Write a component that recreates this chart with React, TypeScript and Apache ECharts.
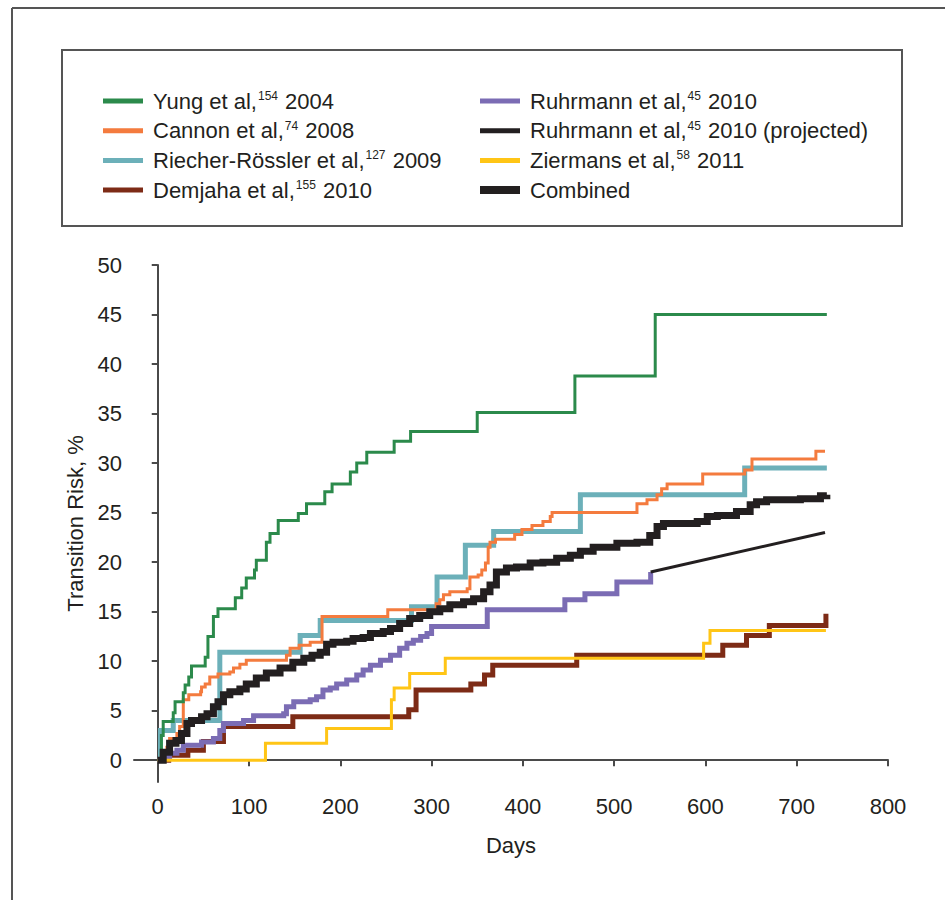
import React, { useEffect, useRef } from "react";
import * as echarts from "echarts";

const FONT = "'Liberation Sans', Arial, sans-serif";
const FS = 22;
const TEXT = "#231f20";

const xTicks = [0, 100, 200, 300, 400, 500, 600, 700, 800];
const yTicks = [0, 5, 10, 15, 20, 25, 30, 35, 40, 45, 50];

// [day, transition risk %]
const yung: [number, number][] = [
  [0, 0], [4, 2.5], [6, 3.9], [17, 4.8], [19, 5.9], [28, 6.8], [30, 7.6], [34, 8.4], [37, 9.5],
  [52, 10.4], [55, 12.5], [61, 14.5], [66, 15.3], [85, 16.4], [92, 17.4], [97, 18.4], [106, 19.2],
  [108, 20.2], [119, 22.0], [123, 22.9], [132, 24.2], [154, 24.9], [163, 25.9], [183, 27.1],
  [191, 27.9], [211, 29.1], [218, 30.0], [229, 31.1], [259, 32.2], [277, 33.2], [350, 35.1],
  [457, 38.8], [545, 45.0], [733, 45.0],
];
const cannon: [number, number][] = [
  [0, 0], [4, 0.7], [10, 1.3], [13, 2.2], [21, 2.7], [24, 3.4], [28, 6.1], [34, 6.6], [47, 6.9],
  [48, 7.4], [52, 7.7], [57, 8.4], [66, 8.7], [79, 8.9], [83, 9.3], [90, 9.7], [97, 10.1],
  [141, 10.6], [145, 11.3], [155, 11.6], [167, 11.9], [180, 14.5], [252, 15.2], [305, 15.8],
  [309, 16.2], [313, 16.7], [320, 17.0], [339, 17.3], [342, 18.5], [351, 18.7], [355, 19.2],
  [359, 19.9], [362, 21.5], [364, 22.0], [370, 22.3], [391, 22.8], [399, 23.3], [410, 23.7],
  [422, 24.1], [430, 24.6], [432, 25.0], [525, 25.9], [536, 26.3], [547, 26.8], [552, 27.4],
  [558, 27.9], [597, 28.9], [643, 29.3], [651, 30.4], [721, 31.2], [731, 31.2],
];
const riecher: [number, number][] = [
  [0, 0], [3, 3.0], [17, 4.0], [68, 10.9], [156, 12.6], [178, 14.1], [278, 15.5], [306, 18.5],
  [337, 21.7], [368, 23.1], [463, 26.8], [643, 29.5], [733, 29.5],
];
const demjaha: [number, number][] = [
  [0, 0], [12, 0.5], [33, 1.0], [50, 1.9], [72, 3.4], [148, 4.4], [275, 5.1], [283, 7.1],
  [343, 7.7], [358, 8.6], [367, 9.6], [459, 10.6], [619, 11.6], [645, 12.6], [670, 13.6],
  [732, 14.8],
];
const ruhrmann: [number, number][] = [
  [0, 0], [6, 0.3], [13, 0.7], [21, 1.0], [28, 1.5], [48, 1.85], [61, 2.2], [68, 3.0], [72, 3.7],
  [94, 4.0], [105, 4.5], [138, 4.7], [141, 5.4], [149, 5.9], [167, 6.1], [174, 6.4], [181, 7.1],
  [189, 7.3], [196, 7.7], [207, 8.1], [218, 8.6], [225, 9.1], [233, 9.6], [244, 10.1],
  [255, 10.6], [265, 11.3], [273, 11.8], [280, 12.1], [288, 12.5], [295, 12.8], [300, 13.5],
  [361, 15.2], [446, 16.2], [468, 16.8], [503, 18.0], [540, 19.0],
];
const ruhrmannProjected: [number, number][] = [[540, 19.0], [731, 23.0]];
const ziermans: [number, number][] = [
  [0, 0], [118, 1.7], [185, 3.2], [256, 6.1], [259, 7.3], [276, 8.75], [315, 10.3], [598, 11.8],
  [605, 13.1], [732, 13.1],
];
const combined: [number, number][] = [
  [0, 0], [6, 0.8], [13, 1.7], [20, 2.0], [26, 2.7], [32, 3.7], [37, 4.0], [48, 4.4], [54, 4.7],
  [61, 5.4], [66, 5.9], [72, 6.6], [79, 6.9], [90, 7.2], [97, 7.7], [108, 8.3], [119, 8.8],
  [134, 9.3], [148, 9.9], [160, 10.3], [169, 10.6], [178, 10.9], [185, 11.7], [192, 11.9],
  [207, 12.0], [214, 12.3], [225, 12.4], [233, 12.8], [247, 13.0], [255, 13.3], [265, 13.8],
  [276, 14.3], [287, 14.6], [298, 15.0], [309, 15.3], [320, 15.7], [335, 16.0], [346, 16.3],
  [357, 17.0], [364, 17.7], [371, 19.0], [382, 19.4], [393, 19.5], [408, 19.9], [422, 20.0],
  [437, 20.4], [452, 20.7], [463, 21.1], [477, 21.5], [503, 21.9], [525, 22.0], [539, 22.7],
  [547, 23.6], [554, 23.9], [591, 24.1], [602, 24.6], [613, 24.7], [634, 25.1], [649, 25.8],
  [656, 26.1], [667, 26.3], [704, 26.4], [726, 26.7], [733, 26.8],
];

// legend labels: [text, superscript, text]
const labels: Record<string, [string, string, string]> = {
  Yung: ["Yung et al,", "154", " 2004"],
  Cannon: ["Cannon et al,", "74", " 2008"],
  Riecher: ["Riecher-Rössler et al,", "127", " 2009"],
  Demjaha: ["Demjaha et al,", "155", " 2010"],
  Ruhrmann: ["Ruhrmann et al,", "45", " 2010"],
  RuhrmannProj: ["Ruhrmann et al,", "45", " 2010 (projected)"],
  Ziermans: ["Ziermans et al,", "58", " 2011"],
  Combined: ["Combined", "", ""],
};

const colors: Record<string, string> = {
  Yung: "#2b8a4b",
  Cannon: "#f47b3e",
  Riecher: "#6cb0b9",
  Demjaha: "#7d2b16",
  Ruhrmann: "#7b6cb4",
  RuhrmannProj: "#231f20",
  Ziermans: "#ffc516",
  Combined: "#231f20",
};

const thinIcon = "path://M0,0h0.01v0.01h-0.01z M0,1.5h40v5h-40z M0,7.99h0.01v0.01h-0.01z";
const thickIcon = "path://M0,0h40v8h-40z";

export default function App() {
  const ref = useRef<HTMLDivElement>(null);
  useEffect(() => {
    if (!ref.current) return;
    const chart = echarts.init(ref.current, null, { renderer: "svg" });
    const step = (name: string, data: [number, number][], width: number) => ({
      name,
      type: "line",
      step: "end",
      data,
      showSymbol: false,
      symbol: "none",
      lineStyle: { color: colors[name], width, join: "miter", cap: "butt" },
      itemStyle: { color: colors[name] },
      emphasis: { disabled: true },
    });
    const rich = {
      t: { fontFamily: FONT, fontSize: FS, color: TEXT, lineHeight: 22 },
      s: { fontFamily: FONT, fontSize: 12, color: TEXT, lineHeight: 22, verticalAlign: "top", padding: [0, 1, 10, 1] },
    };
    const legendBase = {
      orient: "vertical",
      top: 85,
      itemWidth: 40,
      itemHeight: 8,
      itemGap: 7.7,
      icon: thinIcon,
      selectedMode: false,
      formatter: (n: string) => {
        const l = labels[n];
        return l[1] ? `{t|${l[0]}}{s|${l[1]}}{t|${l[2]}}` : `{t|${l[0]}}`;
      },
      textStyle: { rich, padding: [0, 0, 0, 5] },
    };
    const axisCommon = {
      nameLocation: "middle",
      nameTextStyle: { fontFamily: FONT, fontSize: FS, color: TEXT },
      axisLine: { show: true, lineStyle: { color: "#4a4a4a", width: 2 } },
      splitLine: { show: false },
    };
    chart.setOption({
      animation: false,
      backgroundColor: "#ffffff",
      textStyle: { fontFamily: FONT },
      grid: { left: 134, right: 57, top: 265, bottom: 118, containLabel: false },
      legend: [
        { ...legendBase, left: 98, data: ["Yung", "Cannon", "Riecher", "Demjaha"] },
        {
          ...legendBase,
          left: 475,
          data: ["Ruhrmann", "RuhrmannProj", "Ziermans", { name: "Combined", icon: thickIcon }],
        },
      ],
      xAxis: {
        ...axisCommon,
        type: "value",
        min: -26,
        max: 800,
        name: "Days",
        nameGap: 52,
        axisTick: { show: true, length: 6, customValues: xTicks, lineStyle: { color: "#4a4a4a", width: 2 } },
        axisLabel: { customValues: xTicks, fontFamily: FONT, fontSize: FS, color: TEXT, margin: 13 },
      },
      yAxis: {
        ...axisCommon,
        type: "value",
        min: -2.2,
        max: 50,
        name: "Transition Risk, %",
        nameGap: 48,
        axisTick: { show: true, length: 6, customValues: yTicks, lineStyle: { color: "#4a4a4a", width: 2 } },
        axisLabel: { customValues: yTicks, fontFamily: FONT, fontSize: FS, color: TEXT, margin: 12 },
      },
      graphic: [
        { type: "line", shape: { x1: 12, y1: 8, x2: 945, y2: 8 }, style: { stroke: "#555555", lineWidth: 2 } },
        { type: "line", shape: { x1: 12, y1: 8, x2: 12, y2: 900 }, style: { stroke: "#555555", lineWidth: 2 } },
        {
          type: "rect",
          shape: { x: 62, y: 50, width: 840, height: 176 },
          style: { fill: "none", stroke: "#555555", lineWidth: 2 },
        },
      ],
      series: [
        step("Riecher", riecher, 5),
        step("Demjaha", demjaha, 5),
        step("Ruhrmann", ruhrmann, 5),
        step("Ziermans", ziermans, 3),
        step("Cannon", cannon, 3),
        step("Yung", yung, 3),
        {
          name: "RuhrmannProj",
          type: "line",
          data: ruhrmannProjected,
          showSymbol: false,
          symbol: "none",
          lineStyle: { color: colors.RuhrmannProj, width: 3 },
          itemStyle: { color: colors.RuhrmannProj },
          emphasis: { disabled: true },
        },
        step("Combined", combined, 7),
      ],
    });
    return () => chart.dispose();
  }, []);
  return (
    <div
      ref={ref}
      style={{ position: "fixed", left: 0, top: 0, width: 945, height: 900, background: "#fff" }}
    />
  );
}
